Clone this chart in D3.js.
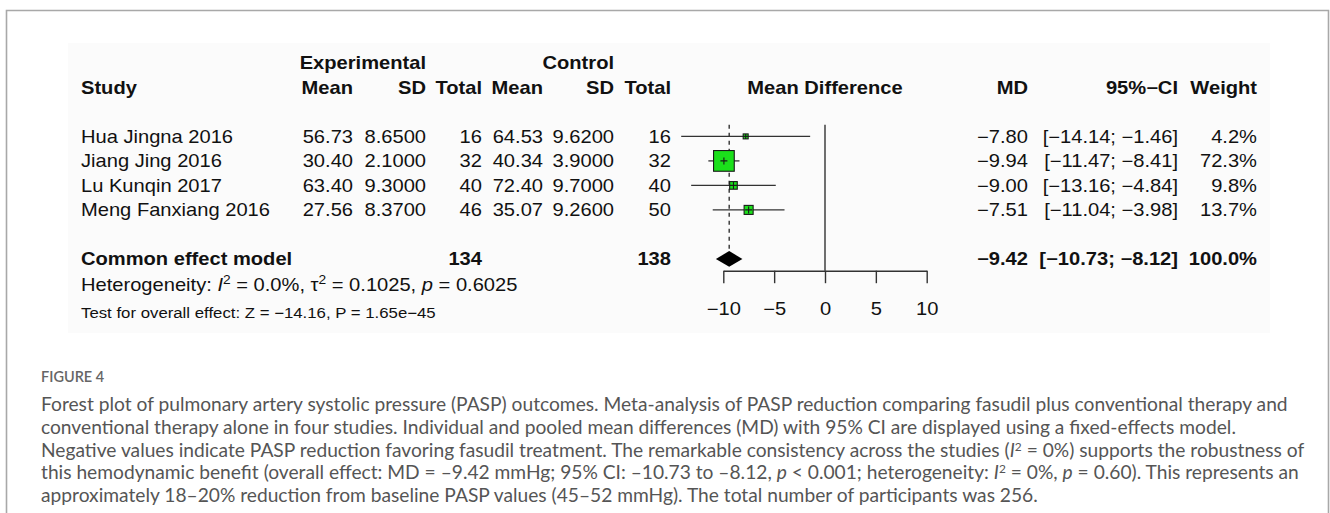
<!DOCTYPE html>
<html>
<head>
<meta charset="utf-8">
<script src="https://cdn.jsdelivr.net/npm/d3@7"></script>
<style>
  body { margin: 0; background: #fff; }
  svg { display: block; }
</style>
</head>
<body>
<svg id="canvas" width="1330" height="513"></svg>
<script>
// study level data
const studies = ["Hua Jingna 2016", "Jiang Jing 2016", "Lu Kunqin 2017", "Meng Fanxiang 2016"];
const expMean = [56.73, 30.40, 63.40, 27.56];
const expSD = [8.65, 2.10, 9.30, 8.37];
const expN = [16, 32, 40, 46];
const ctrlMean = [64.53, 40.34, 72.40, 35.07];
const ctrlSD = [9.62, 3.90, 9.70, 9.26];
const ctrlN = [16, 32, 40, 50];
const md = [-7.80, -9.94, -9.00, -7.51];
const ciLow = [-14.14, -11.47, -13.16, -11.04];
const ciHigh = [-1.46, -8.41, -4.84, -3.98];
const weight = [4.2, 72.3, 9.8, 13.7];

// pooled (common effect) result
const pooledMD = -9.42;
const pooledLow = -10.73;
const pooledHigh = -8.12;
const pooledWeight = 100.0;
const expTotal = 134;
const ctrlTotal = 138;

const xTicks = [-10, -5, 0, 5, 10];

const captionTitle = "FIGURE 4";
const captionLines = [
  "Forest plot of pulmonary artery systolic pressure (PASP) outcomes. Meta-analysis of PASP reduction comparing fasudil plus conventional therapy and",
  "conventional therapy alone in four studies. Individual and pooled mean differences (MD) with 95% CI are displayed using a fixed-effects model.",
  "Negative values indicate PASP reduction favoring fasudil treatment. The remarkable consistency across the studies (|I|² = 0%) supports the robustness of",
  "this hemodynamic benefit (overall effect: MD = –9.42 mmHg; 95% CI: –10.73 to –8.12, |p| < 0.001; heterogeneity: |I|² = 0%, |p| = 0.60). This represents an",
  "approximately 18–20% reduction from baseline PASP values (45–52 mmHg). The total number of participants was 256."
];

const svg = d3.select("svg#canvas");
const FONT = "'Liberation Sans', Arial, Helvetica, sans-serif";
const FS = 17.5;      // main font size
const SX = 1.15;      // the plot image is stretched horizontally
const ink = "#111";

// frame of the figure
svg.append("path")
  .attr("d", "M6.5,513 V10.5 H1328.5 V513")
  .attr("fill", "none")
  .attr("stroke", "#a8a8a8")
  .attr("stroke-width", 1.6);

// faint panel behind the plot image
svg.append("rect")
  .attr("x", 68).attr("y", 43).attr("width", 1202).attr("height", 290)
  .attr("fill", "#fbfbfb");

const g = svg.append("g").attr("font-family", FONT).attr("fill", ink);

// rows: headers at -3, -2; studies 0..3; pooled at 5
const y = d3.scaleLinear().domain([0, 1]).range([136.4, 160.9]);
const x = d3.scaleLinear().domain([-10, 10]).range([723.3, 926.7]);
const side = d3.scaleSqrt().domain([0, 72.3]).range([0, 20.7]);

const f2 = d3.format(".2f");
const f4 = d3.format(".4f");
const f1 = d3.format(".1f");

function label(xp, row, s, anchor, bold, size) {
  const fs = size || FS;
  return g.append("text")
    .attr("transform", `translate(${xp},${y(row) + fs * 0.36}) scale(${SX},1)`)
    .attr("text-anchor", anchor || "start")
    .attr("font-weight", bold ? "bold" : "normal")
    .attr("font-size", fs)
    .text(s);
}

// columns (right edges, except Study)
const col = { study: 81, eMean: 353, eSD: 426, eN: 482, cMean: 543, cSD: 614, cN: 671, md: 1028, ci: 1178, w: 1257 };

// header
label(col.eSD, -3, "Experimental", "end", true);
label(col.cSD, -3, "Control", "end", true);
label(col.study, -2, "Study", "start", true);
label(col.eMean, -2, "Mean", "end", true);
label(col.eSD, -2, "SD", "end", true);
label(col.eN, -2, "Total", "end", true);
label(col.cMean, -2, "Mean", "end", true);
label(col.cSD, -2, "SD", "end", true);
label(col.cN, -2, "Total", "end", true);
label(x(0), -2, "Mean Difference", "middle", true);
label(col.md, -2, "MD", "end", true);
label(col.ci, -2, "95%\u2212CI", "end", true);
label(col.w, -2, "Weight", "end", true);

// study rows
studies.forEach((s, i) => {
  label(col.study, i, s, "start");
  label(col.eMean, i, f2(expMean[i]), "end");
  label(col.eSD, i, f4(expSD[i]), "end");
  label(col.eN, i, expN[i], "end");
  label(col.cMean, i, f2(ctrlMean[i]), "end");
  label(col.cSD, i, f4(ctrlSD[i]), "end");
  label(col.cN, i, ctrlN[i], "end");
  label(col.md, i, f2(md[i]), "end");
  label(col.ci, i, `[${f2(ciLow[i])}; ${f2(ciHigh[i])}]`, "end");
  label(col.w, i, f1(weight[i]) + "%", "end");
});

// pooled row
label(col.study, 5, "Common effect model", "start", true);
label(col.eN, 5, expTotal, "end", true);
label(col.cN, 5, ctrlTotal, "end", true);
label(col.md, 5, f2(pooledMD), "end", true);
label(col.ci, 5, `[${f2(pooledLow)}; ${f2(pooledHigh)}]`, "end", true);
label(col.w, 5, f1(pooledWeight) + "%", "end", true);

// heterogeneity line
const het = label(col.study, 6.05, "", "start");
het.append("tspan").text("Heterogeneity: ");
het.append("tspan").attr("font-style", "italic").text("I");
het.append("tspan").attr("dy", -7).attr("font-size", 12).text("2");
het.append("tspan").attr("dy", 7).text(" = 0.0%, \u03c4");
het.append("tspan").attr("dy", -7).attr("font-size", 12).text("2");
het.append("tspan").attr("dy", 7).text(" = 0.1025, ");
het.append("tspan").attr("font-style", "italic").text("p");
het.append("tspan").text(" = 0.6025");

label(col.study, 7.2, "Test for overall effect: Z = \u221214.16, P = 1.65e\u221245", "start", false, 14.6);

// forest panel
const plot = g.append("g");
const panelTop = y(-0.48);
const axisY = 270.7;

plot.append("line")
  .attr("x1", x(0)).attr("x2", x(0))
  .attr("y1", panelTop).attr("y2", axisY)
  .attr("stroke", "#333").attr("stroke-width", 1.4);

plot.append("line")
  .attr("x1", x(pooledMD)).attr("x2", x(pooledMD))
  .attr("y1", panelTop).attr("y2", y(5) - 7.8)
  .attr("stroke", "#333").attr("stroke-width", 1.4)
  .attr("stroke-dasharray", "4,4");

const rows = plot.selectAll("g.study")
  .data(studies.map((s, i) => ({ i, md: md[i], lo: ciLow[i], hi: ciHigh[i], w: weight[i] })))
  .join("g").attr("class", "study");

rows.append("line")
  .attr("x1", d => x(d.lo)).attr("x2", d => x(d.hi))
  .attr("y1", d => y(d.i)).attr("y2", d => y(d.i))
  .attr("stroke", "#333").attr("stroke-width", 1.3);

rows.append("rect")
  .attr("x", d => x(d.md) - side(d.w) / 2)
  .attr("y", d => y(d.i) - side(d.w) / 2)
  .attr("width", d => side(d.w))
  .attr("height", d => side(d.w))
  .attr("fill", "#1be01b")
  .attr("stroke", "#1a1a1a").attr("stroke-width", 1.1);

// small cross at the point estimate
rows.append("path")
  .attr("d", d => {
    const cx = x(d.md), cy = y(d.i), h = Math.min(side(d.w) / 2, 3.5);
    return `M${cx - h},${cy}H${cx + h}M${cx},${cy - h}V${cy + h}`;
  })
  .attr("stroke", "#1a1a1a").attr("stroke-width", 1.1);

// pooled diamond
plot.append("path")
  .attr("d", () => {
    const cy = y(5), h = 7.8;
    return `M${x(pooledLow)},${cy}L${x(pooledMD)},${cy - h}L${x(pooledHigh)},${cy}L${x(pooledMD)},${cy + h}Z`;
  })
  .attr("fill", "#000");

// x axis
const axis = plot.append("g")
  .attr("transform", `translate(0,${axisY})`)
  .call(d3.axisBottom(x).tickValues(xTicks).tickSize(12.5).tickSizeOuter(0).tickPadding(19.4)
    .tickFormat(d3.format("d")));
axis.select(".domain").attr("stroke", "#333").attr("stroke-width", 1.4);
axis.selectAll(".tick line").attr("stroke", "#333").attr("stroke-width", 1.4);
axis.selectAll(".tick text")
  .attr("font-family", FONT).attr("font-size", FS).attr("fill", ink)
  .attr("transform", `scale(${SX},1)`);

// caption
const cap = svg.append("g").attr("font-family", "Lato, 'Open Sans', sans-serif").attr("fill", "#555");
cap.append("text")
  .attr("x", 41).attr("y", 382)
  .attr("font-size", 14.5).attr("font-weight", 600).attr("fill", "#666")
  .text(captionTitle);

const capY = d3.scaleLinear().domain([0, 1]).range([411, 433.8]);
const capLines = cap.selectAll("text.line")
  .data(captionLines)
  .join("text").attr("class", "line")
  .attr("x", 41).attr("y", (d, i) => capY(i))
  .attr("font-size", 16);

// "|x|" marks an italic run
capLines.each(function (d) {
  const t = d3.select(this);
  d.split("|").forEach((part, k) => {
    if (!part) return;
    const sup = part.startsWith("²");
    if (sup) {
      t.append("tspan").attr("font-size", "0.62em").attr("dy", -6).text("2");
      t.append("tspan").attr("dy", 6).text(part.slice(1));
    } else {
      t.append("tspan").attr("font-style", k % 2 ? "italic" : null).text(part);
    }
  });
});

// fit the caption size to the reference line width
const w0 = capLines.node().getComputedTextLength();
capLines.attr("font-size", 16 * 1248 / w0);
</script>
</body>
</html>
